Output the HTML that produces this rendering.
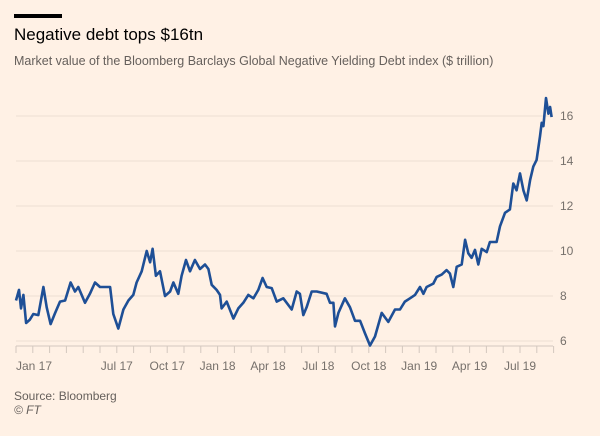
<!DOCTYPE html>
<html><head><meta charset="utf-8"><style>
html,body{margin:0;padding:0;background:#fff1e5;}
body{width:600px;height:436px;position:relative;overflow:hidden;font-family:"Liberation Sans",sans-serif;}
.t{position:absolute;white-space:nowrap;}
</style></head><body>
<div style="position:absolute;left:14px;top:14px;width:48px;height:4px;background:#000;"></div>
<div class="t" style="left:14px;top:25px;font-size:17px;color:#000;">Negative debt tops $16tn</div>
<div class="t" style="left:14px;top:54px;font-size:12.5px;color:#66605c;">Market value of the Bloomberg Barclays Global Negative Yielding Debt index ($ trillion)</div>
<svg id="chart" width="600" height="436" style="position:absolute;left:0;top:0;"></svg>
<div class="t" style="left:14px;top:389px;font-size:12px;color:#66605c;">Source: Bloomberg</div>
<div class="t" style="left:14px;top:403px;font-size:12px;font-style:italic;color:#66605c;">© FT</div>
<script>
const months=[0,.18,.30,.44,.60,.83,1.03,1.33,1.63,1.83,2.06,2.32,2.62,2.92,3.25,3.51,3.71,4.11,4.40,4.70,5.0,5.60,5.79,6.09,6.39,6.69,6.98,7.18,7.48,7.78,7.98,8.13,8.33,8.57,8.87,9.17,9.37,9.66,9.86,10.12,10.36,10.65,10.95,11.25,11.45,11.65,11.94,12.14,12.24,12.54,12.94,13.23,13.53,13.83,14.13,14.42,14.68,14.92,15.22,15.52,15.91,16.41,16.71,16.90,17.10,17.30,17.60,17.90,18.49,18.69,18.89,18.99,19.19,19.58,19.88,20.18,20.48,20.77,21.07,21.37,21.77,22.16,22.56,22.86,23.15,23.45,23.75,24.05,24.25,24.44,24.84,25.04,25.34,25.63,25.83,26.03,26.23,26.53,26.73,26.92,27.12,27.32,27.52,27.72,28.02,28.21,28.61,28.81,29.11,29.40,29.60,29.80,30.0,30.20,30.40,30.60,30.79,30.99,31.19,31.29,31.39,31.55,31.69,31.79,31.88];
const values=[7.8,8.27,7.45,8.05,6.8,6.95,7.2,7.15,8.4,7.5,6.75,7.23,7.75,7.8,8.6,8.2,8.4,7.7,8.1,8.6,8.4,8.4,7.2,6.55,7.4,7.8,8.05,8.6,9.1,10.0,9.5,10.1,8.9,9.1,8.0,8.2,8.6,8.1,8.9,9.6,9.1,9.6,9.2,9.4,9.2,8.5,8.27,8.05,7.45,7.75,7.0,7.45,7.7,8.05,7.9,8.27,8.8,8.4,8.35,7.75,7.9,7.4,8.2,8.1,7.15,7.5,8.2,8.2,8.1,7.7,7.7,6.65,7.25,7.9,7.5,6.9,6.9,6.35,5.8,6.2,7.25,6.85,7.4,7.4,7.75,7.9,8.05,8.4,8.1,8.4,8.55,8.85,8.95,9.15,9.0,8.4,9.3,9.4,10.5,9.9,9.7,10.05,9.4,10.1,9.95,10.4,10.4,11.1,11.7,11.85,13.0,12.7,13.45,12.7,12.25,13.15,13.75,14.05,15.1,15.7,15.55,16.8,16.1,16.4,15.95];
const yTicks=[6,8,10,12,14,16];
const xLabels=["Jan 17","Jul 17","Oct 17","Jan 18","Apr 18","Jul 18","Oct 18","Jan 19","Apr 19","Jul 19"];
const xLabelMonths=[0,6,9,12,15,18,21,24,27,30];
const NS="http://www.w3.org/2000/svg";
const svg=document.getElementById('chart');
const X0=16,PXM=16.8,Y0=341,PXV=22.5,AXY=346;
const x=m=>X0+m*PXM;
const y=v=>Y0-(v-6)*PXV;
function mk(t,a){const e=document.createElementNS(NS,t);for(const k in a)e.setAttribute(k,a[k]);svg.appendChild(e);return e;}
yTicks.forEach(v=>{
  const g=mk('line',{x1:16,x2:553,y1:y(v),y2:y(v),stroke:'#ecdfd3','stroke-width':1});
  
  
  const t=mk('text',{x:560,y:y(v)+4,'font-size':12,fill:'#76706b','font-family':'Liberation Sans, sans-serif'});
  t.textContent=v;
  
  
});
const ax=mk('line',{x1:16,x2:553,y1:AXY,y2:AXY,stroke:'#d3c8be','stroke-width':1});


for(let m=0;m<=32;m++){
  const tk=mk('line',{x1:x(m),x2:x(m),y1:AXY,y2:AXY+7,stroke:'#d3c8be','stroke-width':1});
  
  
}
xLabels.forEach((l,i)=>{
  const t=mk('text',{x:x(xLabelMonths[i]),y:370,'font-size':12,fill:'#76706b','font-family':'Liberation Sans, sans-serif','text-anchor':i==0?'start':'middle'});
  t.textContent=l;
  
  
});
const d=months.map((m,i)=>(i?'L':'M')+x(m).toFixed(1)+','+y(values[i]).toFixed(1)).join('');
const p=mk('path',{d:d,fill:'none',stroke:'#1e4f96','stroke-width':2.6,'stroke-linejoin':'round'});


</script>
</body></html>
